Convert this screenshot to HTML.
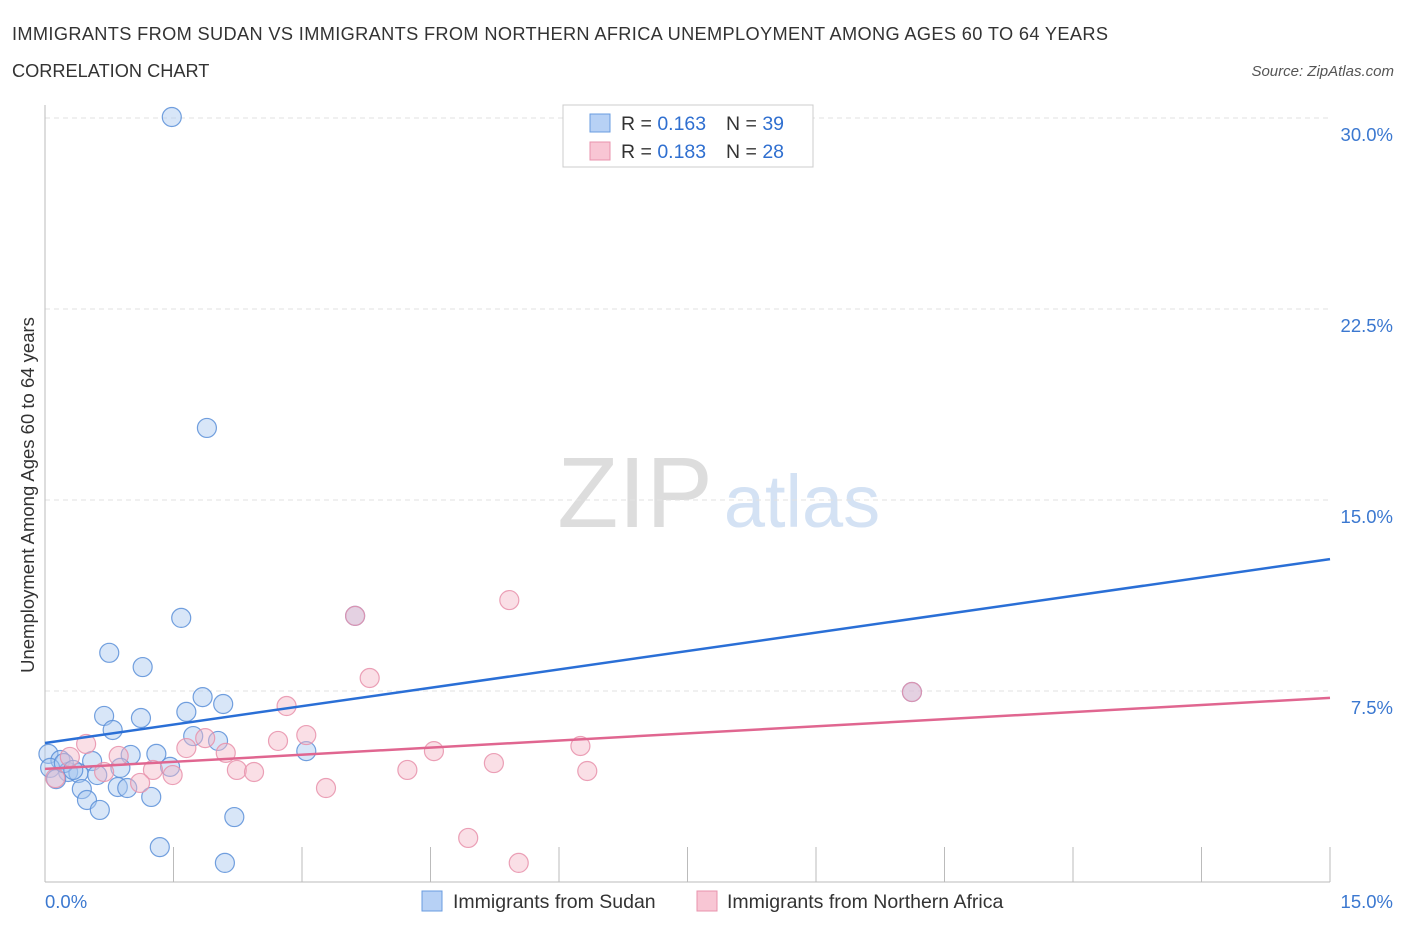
<!DOCTYPE html>
<html><head><meta charset="utf-8"><style>
body{margin:0;background:#fff;font-family:"Liberation Sans",sans-serif;}
svg text{font-family:"Liberation Sans",sans-serif;}
</style></head><body>
<svg width="1406" height="930" id="c">
<text x="12" y="40" font-size="18.2" fill="#333" textLength="1096">IMMIGRANTS FROM SUDAN VS IMMIGRANTS FROM NORTHERN AFRICA UNEMPLOYMENT AMONG AGES 60 TO 64 YEARS</text>
<text x="12" y="77" font-size="18.2" fill="#333">CORRELATION CHART</text>
<text x="1394" y="76" font-size="15" fill="#555" font-style="italic" text-anchor="end">Source: ZipAtlas.com</text>
<text x="635" y="527" font-size="100" fill="#ddd" font-family="Liberation Serif" text-anchor="middle">ZIP</text>
<text x="802" y="527" font-size="74" fill="#d4e2f4" text-anchor="middle">atlas</text>
<text transform="translate(34,495) rotate(-90)" font-size="18.5" fill="#333" text-anchor="middle">Unemployment Among Ages 60 to 64 years</text>
<g id="grid"></g><g id="marks"></g>
<rect x="563" y="105" width="250" height="62" fill="#fff" stroke="#ccc"/>
<rect x="590" y="114" width="20" height="18" fill="#b7d1f5" stroke="#6a9ce0"/>
<text x="621" y="130" font-size="19.5" fill="#333">R = <tspan fill="#2f6fd0">0.163</tspan><tspan x="726">N = </tspan><tspan fill="#2f6fd0">39</tspan></text>
<rect x="590" y="142" width="20" height="18" fill="#f8c6d4" stroke="#e893ad"/>
<text x="621" y="158" font-size="19.5" fill="#333">R = <tspan fill="#2f6fd0">0.183</tspan><tspan x="726">N = </tspan><tspan fill="#2f6fd0">28</tspan></text>
<rect x="422" y="891" width="20" height="20" fill="#b7d1f5" stroke="#6a9ce0"/>
<text x="453" y="908" font-size="19.5" fill="#333">Immigrants from Sudan</text>
<rect x="697" y="891" width="20" height="20" fill="#f8c6d4" stroke="#e893ad"/>
<text x="727" y="908" font-size="19.5" fill="#333">Immigrants from Northern Africa</text>
</svg>
<script>
const yTicks=[7.5,15,22.5,30];
const yTickLabels=["7.5%","15.0%","22.5%","30.0%"];
const xTickLabels=["0.0%","15.0%"];
const sudanX=[1.48,1.89,1.59,3.62,0.75,1.14,10.12,1.84,2.08,0.69,1.65,1.12,0.79,1.73,2.02,3.05,1.0,1.30,0.04,0.55,0.18,1.46,0.88,0.06,0.27,0.39,0.61,0.13,0.43,0.85,0.96,0.49,1.24,0.64,2.21,1.34,2.10,0.22,0.33];
const sudanY=[30.04,17.83,10.37,10.45,9.0,8.44,7.46,7.26,6.99,6.52,6.68,6.44,5.97,5.73,5.54,5.14,4.99,5.03,5.03,4.75,4.79,4.52,4.48,4.48,4.32,4.28,4.20,4.04,3.65,3.73,3.69,3.22,3.34,2.83,2.55,1.37,0.75,4.67,4.40];
const nafX=[5.42,3.79,2.82,3.05,2.72,1.87,0.48,0.86,1.65,2.11,6.25,4.54,0.29,5.24,4.23,1.26,2.24,2.44,1.49,0.69,6.33,3.28,1.11,0.12,4.94,5.53,3.62,10.12];
const nafY=[11.07,8.01,6.91,5.77,5.54,5.65,5.42,4.95,5.26,5.07,5.34,5.14,4.91,4.67,4.40,4.40,4.40,4.32,4.20,4.32,4.36,3.69,3.89,4.08,1.73,0.75,10.45,7.46];
const sudanTrend=[5.46,12.68];
const nafTrend=[4.44,7.23];
const xs=v=>45+v/15*1285, ys=v=>882-v/7.5*191;
const NS="http://www.w3.org/2000/svg";
function mk(t,a,p){const e=document.createElementNS(NS,t);for(const k in a)e.setAttribute(k,a[k]);p.appendChild(e);return e;}
const g=document.getElementById('grid'),m=document.getElementById('marks');
yTicks.forEach((t,i)=>{
 const l=mk('line',{x1:45,x2:1330,y1:ys(t),y2:ys(t),stroke:'#e2e2e2','stroke-dasharray':'5,4'},g);
 
 
 const tx=mk('text',{x:1393,y:ys(t)+23,'font-size':18.5,fill:'#3b78d0','text-anchor':'end'},g);
 tx.textContent=yTickLabels[i];
 
 
});
const ax=mk('line',{x1:45,x2:45,y1:105,y2:882,stroke:'#bbb'},g);


const bx=mk('line',{x1:45,x2:1330,y1:882,y2:882,stroke:'#bbb'},g);


for(let i=0;i<=10;i++){
 const t=mk('line',{x1:xs(i*1.5),x2:xs(i*1.5),y1:847,y2:882,stroke:'#bbb'},g);
 
 
}
xTickLabels.forEach((s,i)=>{
 const t=mk('text',{x:i?1393:45,y:908,'font-size':18.5,fill:'#3b78d0','text-anchor':i?'end':'start'},g);
 t.textContent=s;
 
 
});
function pts(X,Y,f,s,n){X.forEach((x,i)=>{
 const c=mk('circle',{cx:xs(x),cy:ys(Y[i]),r:9.5,fill:f,'fill-opacity':0.45,stroke:s,'stroke-opacity':0.85,'stroke-width':1.2},m);
 
 
});}
pts(sudanX,sudanY,'#a8c8f0','#5b8fd8','sudan-point');
pts(nafX,nafY,'#f5b8c8','#e890aa','nafrica-point');
const l1=mk('line',{x1:xs(0),x2:xs(15),y1:ys(sudanTrend[0]),y2:ys(sudanTrend[1]),stroke:'#2a6fd6','stroke-width':2.5},m);


const l2=mk('line',{x1:xs(0),x2:xs(15),y1:ys(nafTrend[0]),y2:ys(nafTrend[1]),stroke:'#e06690','stroke-width':2.5},m);


</script>
</body></html>
